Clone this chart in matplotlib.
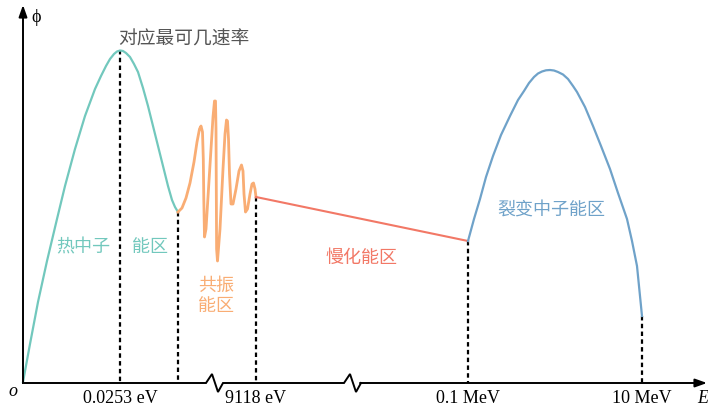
import matplotlib.pyplot as plt

# schematic values, read in picture units (x right, y down)
thermal_x = [23, 30, 38, 47, 57, 65, 75, 85, 95, 101, 106, 110, 114, 117, 120, 123, 126, 130, 134, 138,
             143, 148, 153, 158, 163, 168, 172, 175, 178]
thermal_y = [383, 345, 303, 262, 220, 187, 150, 117, 90, 77, 67, 60, 55, 52.5, 51.5, 52, 54, 58, 65, 73,
             89, 107, 127, 147, 167, 187, 201, 208, 213]

res_x = [178, 182, 186, 190, 194, 197, 199.5, 201, 202.5, 203.3, 203.8, 204.5, 206, 208.5, 211, 213, 214.5,
         215.5, 216, 216.3, 216.6, 217.5, 220, 223, 225, 226.5, 227.5, 228.5, 229.5, 231, 233, 236, 239,
         241.5, 243, 244, 245.5, 247.5, 250, 252, 253.5, 255, 256]
res_y = [213, 209, 199, 184, 163, 143, 130, 127, 133, 160, 200, 238, 230, 190, 150, 118, 102,
         102, 130, 190, 250, 262, 230, 170, 135, 121, 122, 140, 175, 205, 205, 190, 172,
         166, 172, 195, 213, 210, 195, 185, 184, 190, 198]

slow_x = [256, 468]
slow_y = [198, 242]

fis_x = [468, 474, 480, 486, 493, 501, 510, 518, 524, 529, 534, 538, 542, 546, 550, 554, 558, 563, 568,
         573, 577, 585, 593, 601, 610, 618, 627, 632, 637, 642]
fis_y = [242, 220, 200, 178, 157, 136, 117, 101, 92, 84, 78, 74.5, 72.5, 71.3, 71, 71.5, 73, 75.5, 80,
         87, 93, 108, 127, 147, 170, 194, 220, 242, 267, 317]

mark_x = [120, 178, 256, 468, 642]
mark_top = [51, 213, 198, 242, 317]
tick_x = [120, 256, 468, 642]
tick_labels = ['0.0253 eV', '9118 eV', '0.1 MeV', '10 MeV']

ORIGIN = (23, 384)
breaks = [206, 344]

TEAL = '#72c8bd'
ORANGE = '#f9ad74'
RED = '#f27866'
BLUE = '#6fa2c9'

fig = plt.figure(figsize=(7.08, 4.10), dpi=100)
ax = fig.add_axes([0, 0, 1, 1])
ax.set_xlim(0, 708)
ax.set_ylim(410, 0)
ax.axis('off')

# axes with breaks
ox, oy = ORIGIN
xs = [ox]
ys = [oy]
for b in breaks:
    xs += [b, b + 6, b + 12, b + 17]
    ys += [oy, oy - 9, oy + 9, oy]
ax.plot(xs, ys, color='black', lw=1.4, solid_joinstyle='miter')
ax.annotate('', xy=(707, oy), xytext=(xs[-1] - 1, oy),
            arrowprops=dict(arrowstyle='-|>,head_length=0.7,head_width=0.25', color='black', lw=1.4,
                            shrinkA=0, shrinkB=0))
ax.annotate('', xy=(ox, 6), xytext=(ox, oy),
            arrowprops=dict(arrowstyle='-|>,head_length=0.7,head_width=0.25', color='black', lw=1.4,
                            shrinkA=0, shrinkB=0))

# dotted guides
for x, top in zip(mark_x, mark_top):
    ax.plot([x, x], [top, oy], color='black', lw=1.6, ls=(0, (2, 1.5)))

ax.plot(thermal_x, thermal_y, color=TEAL, lw=1.6, solid_joinstyle='round')
ax.plot(res_x, res_y, color=ORANGE, lw=2.0, solid_joinstyle='round')
ax.plot(slow_x, slow_y, color=RED, lw=1.5)
ax.plot(fis_x, fis_y, color=BLUE, lw=1.6, solid_joinstyle='round')

serif = 'Liberation Serif'
for x, lab in zip(tick_x, tick_labels):
    ax.text(x, 399, lab, ha='center', va='center', fontsize=13, family=serif)
ax.text(13, 392, 'o', ha='center', va='center', fontsize=13, family=serif, style='italic')
ax.text(703, 399, 'E', ha='center', va='center', fontsize=13, family=serif, style='italic')
ax.text(36, 17, 'ϕ', ha='center', va='center', fontsize=13, family=serif)

cjk = ['Noto Sans CJK SC', 'DejaVu Sans']
ax.text(184, 39, '对应最可几速率', ha='center', va='center', fontsize=13.5, family=cjk,
        color='#555555', fontweight='light')
ax.text(83, 247, '热中子', ha='center', va='center', fontsize=13, family=cjk, color=TEAL,
        fontweight='light')
ax.text(150, 247, '能区', ha='center', va='center', fontsize=13, family=cjk, color=TEAL,
        fontweight='light')
ax.text(216, 296, '共振\n能区', ha='center', va='center', fontsize=13, family=cjk, color=ORANGE,
        linespacing=1.2, fontweight='light')
ax.text(361, 258, '慢化能区', ha='center', va='center', fontsize=13, family=cjk, color=RED,
        fontweight='light')
ax.text(551, 211, '裂变中子能区', ha='center', va='center', fontsize=13, family=cjk, color=BLUE,
        fontweight='light')

fig.savefig('out.png', dpi=100)
